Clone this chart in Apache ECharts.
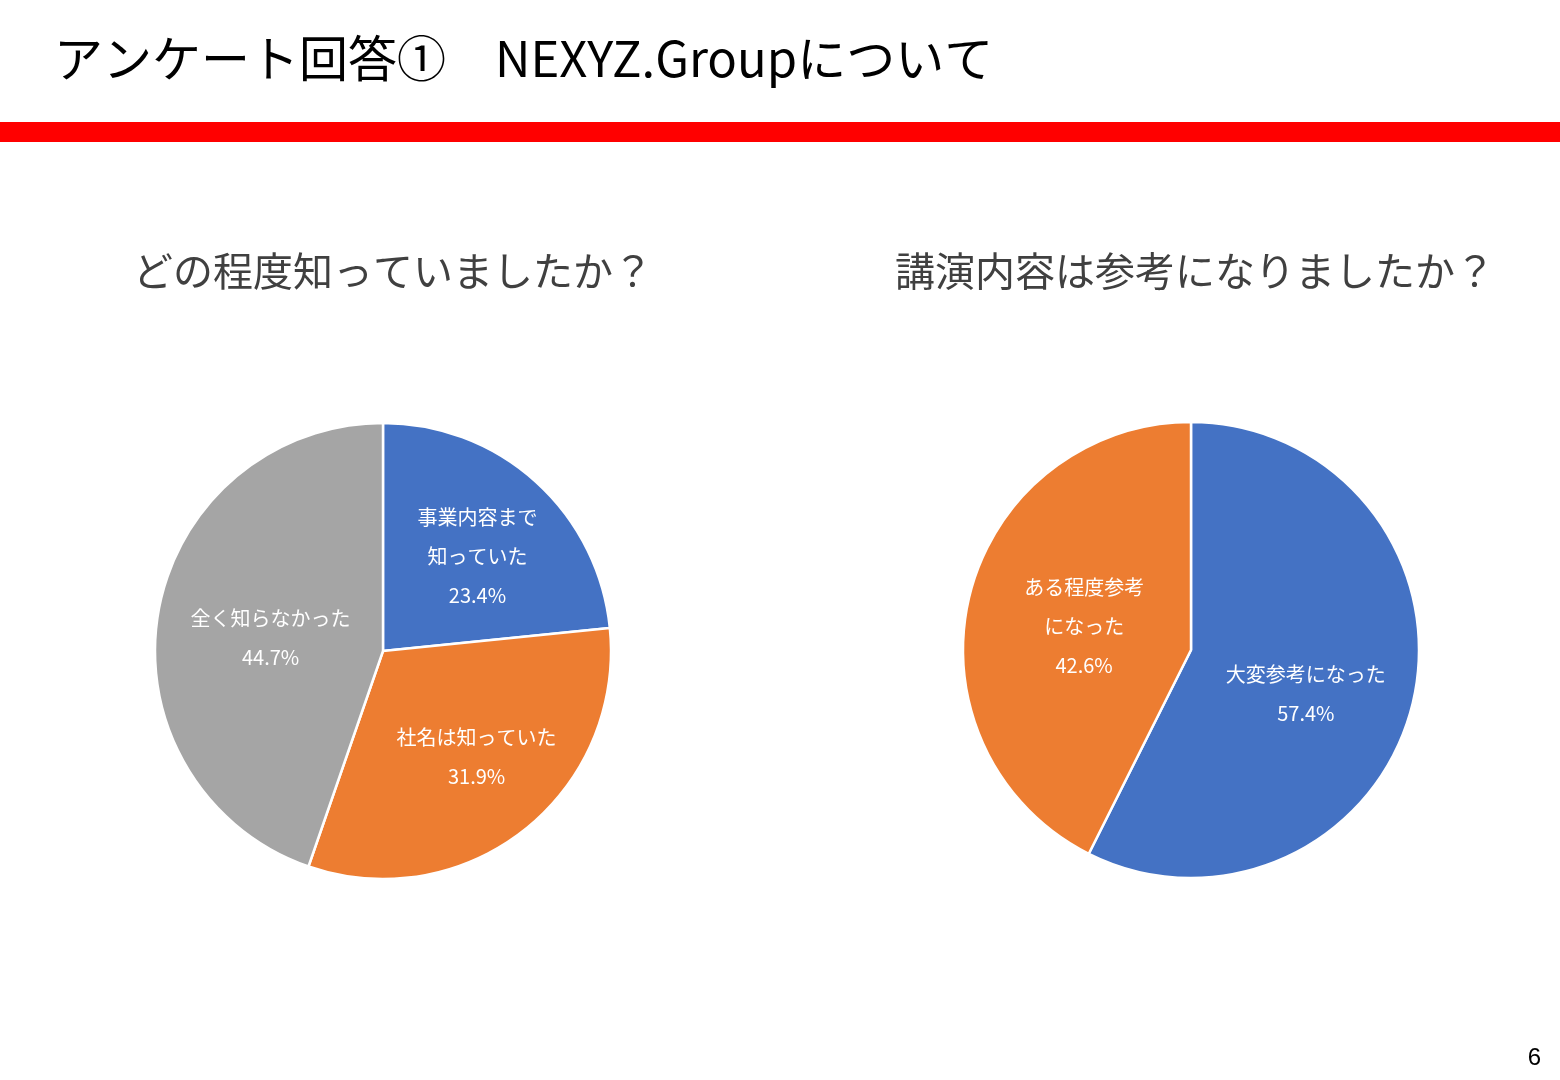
<!DOCTYPE html>
<html>
<head>
<meta charset="utf-8">
<script src="https://cdn.jsdelivr.net/npm/echarts@6/dist/echarts.min.js"></script>
<style>
html,body{margin:0;padding:0;background:#fff;}
#chart{width:1560px;height:1080px;}
</style>
</head>
<body>
<div id="chart"></div>
<script>
// ---- data ----
const pageTitle = 'アンケート回答①　NEXYZ.Groupについて';
const pageNumber = '6';

const q1Title = 'どの程度知っていましたか？';
const q1Names = ['事業内容まで\n知っていた', '社名は知っていた', '全く知らなかった'];
const q1Values = [23.4, 31.9, 44.7];

const q2Title = '講演内容は参考になりましたか？';
const q2Names = ['大変参考になった', 'ある程度参考\nになった'];
const q2Values = [57.4, 42.6];

// ---- styling ----
const FONT = '"Noto Sans CJK JP", "Noto Sans", sans-serif';
const colors1 = ['#4472C4', '#ED7D31', '#A5A5A5'];
const colors2 = ['#4472C4', '#ED7D31'];
const q1Shift = [[16, -8], [21, 14], [3, 6]];
const q2Shift = [[1, 17], [7, 3]];

function makeData(names, values) {
  return names.map((n, i) => ({ name: n, value: values[i] }));
}

function pieSeries(names, values, colors, center, shift) {
  return {
    type: 'pie',
    center: center,
    radius: 228,
    startAngle: 90,
    clockwise: true,
    animation: false,
    color: colors,
    itemStyle: { borderColor: '#ffffff', borderWidth: 2.5 },
    label: {
      show: true,
      position: 'inside',
      color: '#ffffff',
      fontFamily: FONT,
      fontSize: 20,
      lineHeight: 39,
      formatter: p => p.name + '\n' + p.value.toFixed(1) + '%'
    },
    labelLine: { show: false },
    emphasis: { disabled: true },
    labelLayout: p => ({ dx: shift[p.dataIndex][0], dy: shift[p.dataIndex][1] }),
    data: makeData(names, values)
  };
}

const chart = echarts.init(document.getElementById('chart'));
chart.setOption({
  backgroundColor: '#ffffff',
  title: [
    { text: q1Title, left: 388, top: 266, textAlign: 'center', textVerticalAlign: 'middle',
      textStyle: { fontFamily: FONT, fontSize: 40, fontWeight: 'normal', color: '#404040' } },
    { text: q2Title, left: 1190, top: 266, textAlign: 'center', textVerticalAlign: 'middle',
      textStyle: { fontFamily: FONT, fontSize: 40, fontWeight: 'normal', color: '#404040' } }
  ],
  graphic: [
    { type: 'text', left: 54, top: 34,
      style: { text: pageTitle, fontFamily: FONT, fontSize: 49, fill: '#000000' } },
    { type: 'rect', left: 0, top: 122, shape: { width: 1560, height: 20 }, style: { fill: '#FF0000' } },
    { type: 'text', right: 19, top: 1046,
      style: { text: pageNumber, fontFamily: '"Liberation Sans", Arial, sans-serif', fontSize: 24, fill: '#000000' } }
  ],
  series: [
    pieSeries(q1Names, q1Values, colors1, [383, 651], q1Shift),
    pieSeries(q2Names, q2Values, colors2, [1191, 650], q2Shift)
  ]
});
</script>
</body>
</html>
